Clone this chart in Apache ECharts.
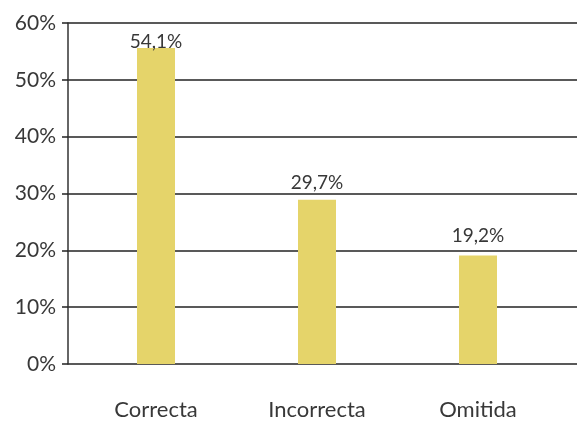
<!DOCTYPE html>
<html>
<head>
<meta charset="utf-8">
<script src="https://cdn.jsdelivr.net/npm/echarts@6/dist/echarts.min.js"></script>
<style>
  html, body { margin: 0; padding: 0; background: #fff; }
  #chart { width: 577px; height: 423px; }
</style>
</head>
<body>
<div id="chart"></div>
<script>
// data
var categories = ['Correcta', 'Incorrecta', 'Omitida'];
var barHeights = [55.6, 28.9, 19.1];          // heights as drawn
var valueLabels = ['54,1%', '29,7%', '19,2%']; // text above the bars
var yTicks = [0, 10, 20, 30, 40, 50, 60];

var labelGap = [-3, 7, 10]; // label distance above each bar
var font = 'Lato, "Open Sans", sans-serif';
var textColor = '#383838';

var myChart = echarts.init(document.getElementById('chart'));

myChart.setOption({
  backgroundColor: '#fff',
  animation: false,
  grid: [
    // grid 0: y axis + horizontal lines
    { left: 68, right: 0, top: 23, bottom: 59 },
    // grid 1: the bars
    { left: 75.5, right: 18.5, top: 23, bottom: 59 }
  ],
  xAxis: [
    { gridIndex: 0, type: 'value', show: false, min: 0, max: 1 },
    {
      gridIndex: 1,
      type: 'category',
      data: categories,
      axisLine: { show: false },
      axisTick: { show: false },
      axisLabel: {
        margin: 35,
        fontSize: 22,
        fontFamily: font,
        color: textColor
      }
    }
  ],
  yAxis: [
    {
      gridIndex: 0,
      type: 'value',
      min: yTicks[0],
      max: yTicks[yTicks.length - 1],
      interval: 10,
      axisLine: { show: true, lineStyle: { color: '#333', width: 1.5 } },
      axisTick: { show: true, length: 6, lineStyle: { color: '#222', width: 1.5 } },
      axisLabel: {
        margin: 12,
        fontSize: 21,
        fontFamily: font,
        color: textColor,
        formatter: '{value}%'
      },
      splitLine: { show: true, lineStyle: { color: '#222', width: 1.5 } }
    },
    {
      gridIndex: 1,
      type: 'value',
      min: yTicks[0],
      max: yTicks[yTicks.length - 1],
      show: false,
      splitLine: { show: false }
    }
  ],
  series: [
    {
      type: 'bar',
      xAxisIndex: 1,
      yAxisIndex: 1,
      barWidth: 38,
      itemStyle: { color: '#e5d46a' },
      z: 3,
      data: barHeights.map(function (v, i) {
        return {
          value: v,
          label: {
            show: true,
            position: 'top',
            distance: labelGap[i],
            formatter: valueLabels[i],
            fontSize: 19,
            fontFamily: font,
            color: textColor
          }
        };
      })
    }
  ]
});
</script>
</body>
</html>
